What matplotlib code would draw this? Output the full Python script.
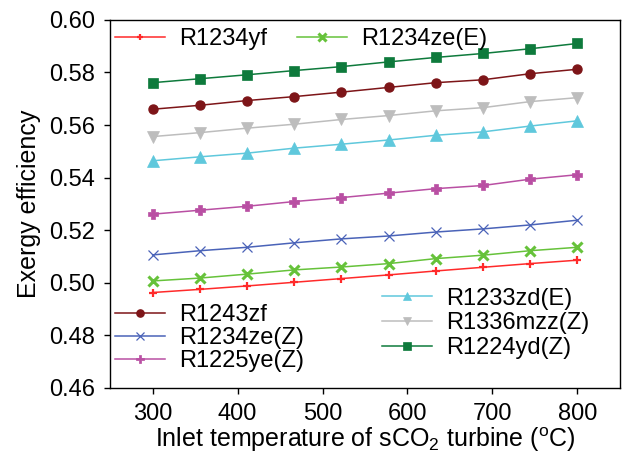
import matplotlib

matplotlib.use("Agg")
import matplotlib.pyplot as plt

plt.rcParams["font.family"] = ["Liberation Sans", "DejaVu Sans"]

# inlet temperature of the sCO2 turbine (deg C)
temps = [300, 355.6, 411.1, 466.7, 522.2, 577.8, 633.3, 688.9, 744.4, 800]

r1234yf = [0.4963, 0.4975, 0.4988, 0.5002, 0.5016, 0.5030, 0.5045, 0.5059, 0.5073, 0.5086]
r1234ze_e = [0.5007, 0.5018, 0.5033, 0.5049, 0.5060, 0.5073, 0.5092, 0.5105, 0.5122, 0.5135]
r1243zf = [0.5660, 0.5675, 0.5693, 0.5708, 0.5725, 0.5743, 0.5761, 0.5772, 0.5795, 0.5812]
r1234ze_z = [0.5106, 0.5122, 0.5135, 0.5152, 0.5167, 0.5178, 0.5193, 0.5205, 0.5220, 0.5238]
r1225ye_z = [0.5261, 0.5276, 0.5291, 0.5309, 0.5324, 0.5341, 0.5358, 0.5370, 0.5394, 0.5411]
r1233zd_e = [0.5464, 0.5479, 0.5493, 0.5512, 0.5527, 0.5543, 0.5561, 0.5574, 0.5596, 0.5616]
r1336mzz_z = [0.5556, 0.5571, 0.5588, 0.5603, 0.5621, 0.5636, 0.5654, 0.5666, 0.5689, 0.5704]
r1224yd_z = [0.5761, 0.5776, 0.5791, 0.5807, 0.5822, 0.5840, 0.5857, 0.5872, 0.5890, 0.5910]

fig = plt.figure(figsize=(6.37, 4.72), dpi=100)
ax = fig.add_axes([0.173, 0.178, 0.800, 0.780])

FS = 17
LFS = 18

# (label, data, colour, marker, marker size, marker edge width)
series = [
    ("R1234yf", r1234yf, "#ff2a2a", "+", 6, 1.6),
    ("R1234ze(E)", r1234ze_e, "#66c23a", "x", 7, 2.2),
    ("R1243zf", r1243zf, "#7d1518", "o", 6.5, 1),
    ("R1234ze(Z)", r1234ze_z, "#4a63b8", "x", 7, 0.9),
    ("R1225ye(Z)", r1225ye_z, "#b94fa3", "P", 7, 0.5),
    ("R1233zd(E)", r1233zd_e, "#5fc8dc", "^", 8, 0.5),
    ("R1336mzz(Z)", r1336mzz_z, "#bdbdbd", "v", 8, 0.5),
    ("R1224yd(Z)", r1224yd_z, "#0e7a3c", "s", 6.5, 0.5),
]

h = {}
for name, vals, col, mk, ms, mew in series:
    (ln,) = ax.plot(temps, vals, color=col, lw=1.1, marker=mk, ms=ms,
                    mec=col, mfc=col, mew=mew, label=name)
    h[name] = ln

ax.set_xlim(250, 850)
ax.set_ylim(0.46, 0.60)
ax.set_xticks([300, 400, 500, 600, 700, 800])
ax.set_yticks([0.46, 0.48, 0.50, 0.52, 0.54, 0.56, 0.58, 0.60])
ax.set_yticklabels([f"{v:.2f}" for v in ax.get_yticks()])
ax.tick_params(labelsize=FS, direction="out", length=4, width=1, pad=7)
ax.set_xlabel(r"Inlet temperature of sCO$\mathregular{_2}$ turbine ($\mathregular{^o}$C)",
              fontsize=LFS, labelpad=0)
ax.set_ylabel("Exergy efficiency", fontsize=LFS, labelpad=6)
for s in ax.spines.values():
    s.set_linewidth(1)

common = dict(frameon=False, fontsize=FS, handlelength=2.1, handletextpad=0.6,
              borderaxespad=0.0, borderpad=0.2, markerscale=0.8)
leg1 = ax.legend([h["R1234yf"], h["R1234ze(E)"]], ["R1234yf", "R1234ze(E)"],
                 loc="upper left", bbox_to_anchor=(0.0, 0.99), ncol=2,
                 columnspacing=1.3, **common)
ax.add_artist(leg1)
leg2 = ax.legend([h[k] for k in ("R1243zf", "R1234ze(Z)", "R1225ye(Z)")],
                 ["R1243zf", "R1234ze(Z)", "R1225ye(Z)"],
                 loc="lower left", bbox_to_anchor=(0.0, 0.03), labelspacing=0.05,
                 **common)
ax.add_artist(leg2)
ax.legend([h[k] for k in ("R1233zd(E)", "R1336mzz(Z)", "R1224yd(Z)")],
          ["R1233zd(E)", "R1336mzz(Z)", "R1224yd(Z)"],
          loc="lower left", bbox_to_anchor=(0.525, 0.065), labelspacing=0.12,
          **common)

fig.savefig("out.png", dpi=100, facecolor="white")
